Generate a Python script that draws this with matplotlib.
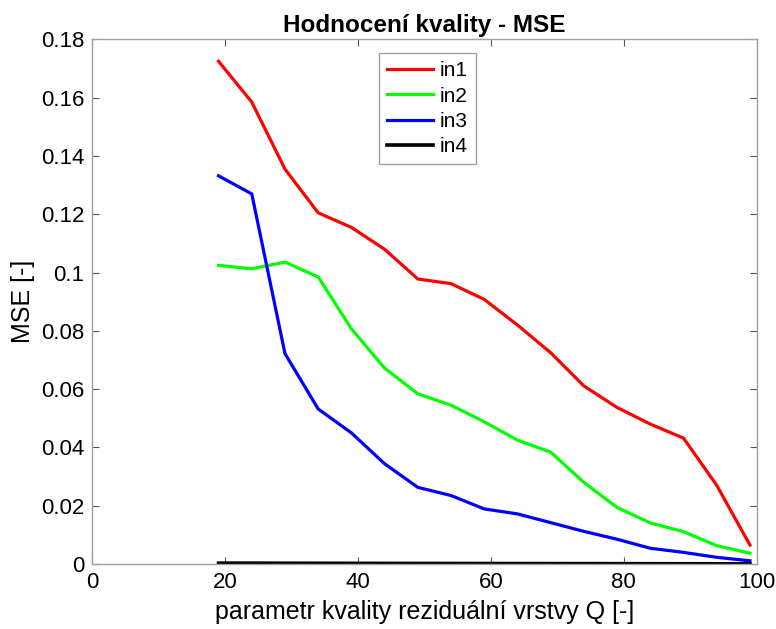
import matplotlib.pyplot as plt
from matplotlib.ticker import FuncFormatter

# Quality parameter Q
q = [19, 24, 29, 34, 39, 44, 49, 54, 59, 64, 69, 74, 79, 84, 89, 94, 99]

# MSE for each input
in1 = [0.1725, 0.1585, 0.1355, 0.1205, 0.1155, 0.1080, 0.0978, 0.0962, 0.0908,
       0.0820, 0.0725, 0.0611, 0.0537, 0.0480, 0.0432, 0.0270, 0.0065]
in2 = [0.1025, 0.1013, 0.1036, 0.0985, 0.0807, 0.0672, 0.0584, 0.0545, 0.0488,
       0.0425, 0.0384, 0.0280, 0.0194, 0.0141, 0.0111, 0.0063, 0.0037]
in3 = [0.1332, 0.1270, 0.0722, 0.0532, 0.0450, 0.0344, 0.0263, 0.0235, 0.0189,
       0.0172, 0.0142, 0.0112, 0.0085, 0.0054, 0.0040, 0.0023, 0.0011]
in4 = [0.00030, 0.00030, 0.00028, 0.00026, 0.00024, 0.00022, 0.00020, 0.00019, 0.00018,
       0.00016, 0.00015, 0.00014, 0.00012, 0.00011, 0.00010, 0.00008, 0.00005]

plt.rcParams["font.family"] = ["Liberation Sans", "DejaVu Sans"]

fig = plt.figure(figsize=(7.76, 6.29), dpi=100)
ax = fig.add_axes([0.119, 0.1033, 0.856, 0.834])

ax.plot(q, in1, color="#ff0000", lw=2.3, label="in1")
ax.plot(q, in2, color="#00ff00", lw=2.3, label="in2")
ax.plot(q, in3, color="#0000ff", lw=2.3, label="in3")
ax.plot(q, in4, color="#000000", lw=2.6, label="in4")

ax.set_xlim(0, 100)
ax.set_ylim(0, 0.18)
ax.set_xticks(range(0, 101, 20))
ax.set_yticks([i * 0.02 for i in range(10)])
ax.yaxis.set_major_formatter(FuncFormatter(lambda v, p: "%g" % round(v, 2)))

# MATLAB-like axes box
for s in ax.spines.values():
    s.set_color("#a0a0a0")
    s.set_linewidth(1.0)
ax.tick_params(direction="in", top=True, right=True, length=5, color="#555555",
               labelsize=16, pad=6)

ax.set_title("Hodnocení kvality - MSE", fontsize=17.5, fontweight="bold", pad=5)
ax.set_xlabel("parametr kvality reziduální vrstvy Q [-]", fontsize=18, labelpad=5)
ax.set_ylabel("MSE [-]", fontsize=18, labelpad=4)

leg = ax.legend(loc="upper left", bbox_to_anchor=(0.4315, 0.974), fontsize=15,
                fancybox=False, framealpha=1, handlelength=2.2, borderpad=0.4,
                labelspacing=0.3, handletextpad=0.3, borderaxespad=0)
leg.get_frame().set_edgecolor("#a0a0a0")
leg.get_frame().set_linewidth(1.0)

plt.savefig("out.png", dpi=100)
